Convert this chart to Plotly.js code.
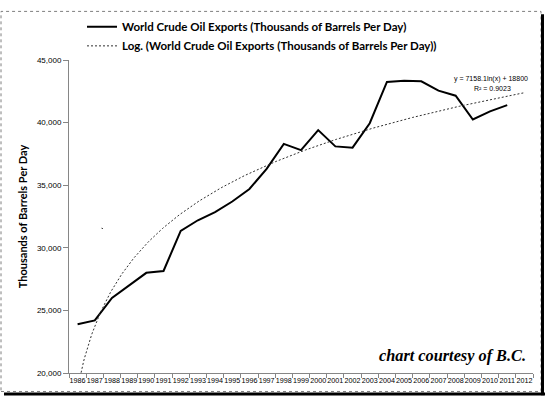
<!DOCTYPE html>
<html>
<head>
<meta charset="utf-8">
<script src="https://cdn.plot.ly/plotly-3.0.1.min.js"></script>
<style>
html,body{margin:0;padding:0;background:#fff;}
#chart{width:545px;height:396px;}
</style>
</head>
<body>
<div id="chart"></div>
<script>
// ---- data ----
const categories = ["1986","1987","1988","1989","1990","1991","1992","1993","1994","1995","1996","1997","1998","1999","2000","2001","2002","2003","2004","2005","2006","2007","2008","2009","2010","2011","2012"];
const dataYears = [1986,1987,1988,1989,1990,1991,1992,1993,1994,1995,1996,1997,1998,1999,2000,2001,2002,2003,2004,2005,2006,2007,2008,2009,2010,2011];
const exportsKbd = [23900,24200,26000,27000,28000,28150,31350,32200,32850,33700,34700,36300,38300,37800,39400,38100,38000,39950,43250,43350,43300,42550,42150,40250,40900,41400];
const seriesName = "World Crude Oil Exports (Thousands of Barrels Per Day)";
const trendName = "Log. (World Crude Oil Exports (Thousands of Barrels Per Day))";
const equationText = "y = 7158.1ln(x) + 18800";
const r2Text = "R² = 0.9023";
const yTitle = "Thousands of Barrels Per Day";
const creditText = "chart courtesy of B.C.";

// ---- logarithmic trendline (least squares fit, as Excel does: x = 1..n) ----
const n = exportsKbd.length;
let sx=0, sy=0, sxx=0, sxy=0;
for (let i=0;i<n;i++){ const lx=Math.log(i+1); sx+=lx; sy+=exportsKbd[i]; sxx+=lx*lx; sxy+=lx*exportsKbd[i]; }
const slope = (n*sxy - sx*sy)/(n*sxx - sx*sx);
const intercept = (sy - slope*sx)/n;
const trendX = [], trendY = [];
for (let t=1; t<=n+1.0001; t+=0.05){ trendX.push(dataYears[0]-1+t); trendY.push(slope*Math.log(t)+intercept); }

const W=545, H=396, mL=69, mR=12, mT=51, mB=23;
const pw=W-mL-mR, ph=H-mT-mB;
const px = x => (x-mL)/pw;          // pixel -> paper x
const py = y => 1-(y-mT)/ph;        // pixel -> paper y

const traces = [
  {x:dataYears, y:exportsKbd, name:seriesName, type:"scatter", mode:"lines",
   line:{color:"#000000", width:2}},
  {x:trendX, y:trendY, name:trendName, type:"scatter", mode:"lines",
   line:{color:"#303030", width:1, dash:"2px,2px"}}
];

const layout = {
  width:W, height:H,
  margin:{l:mL, r:mR, t:mT, b:mB, pad:0},
  paper_bgcolor:"#ffffff", plot_bgcolor:"#ffffff",
  showlegend:true,
  legend:{x:px(82), y:py(2), xanchor:"left", yanchor:"top", bgcolor:"rgba(0,0,0,0)",
          font:{family:"Lato, 'Liberation Sans', sans-serif", size:11.5, weight:"bold", color:"#000"},
          tracegroupgap:0},
  xaxis:{type:"linear", range:[dataYears[0]-0.5, 2012.5],
         tickmode:"array", tickvals:categories.map(Number), ticktext:categories, tickangle:0,
         ticks:"", showgrid:false, zeroline:false,
         showline:true, linecolor:"#868686", linewidth:1,
         tickfont:{family:"'Liberation Sans', Arial, sans-serif", size:7.2, color:"#000"},
         minor:{tick0:1985.5, dtick:1, ticks:"outside", ticklen:4, tickcolor:"#868686", showgrid:false},
         fixedrange:true},
  yaxis:{range:[20000,45000], dtick:5000, tickformat:",", ticks:"outside", ticklen:5,
         tickcolor:"#868686", showline:true, linecolor:"#868686", linewidth:1,
         showgrid:false, zeroline:false,
         tickfont:{family:"'Liberation Sans', Arial, sans-serif", size:8, color:"#000"},
         title:{text:yTitle, standoff:7, font:{family:"Lato, 'Liberation Sans', sans-serif", size:11, weight:"bold", color:"#000"}},
         fixedrange:true},
  annotations:[
    {xref:"paper", yref:"paper", x:px(491), y:py(70.5), text:equationText, showarrow:false,
     font:{family:"'Liberation Sans', Arial, sans-serif", size:7, color:"#000"}, xanchor:"center", yanchor:"middle"},
    {xref:"paper", yref:"paper", x:px(492), y:py(80), text:r2Text, showarrow:false,
     font:{family:"'Liberation Sans', Arial, sans-serif", size:7, color:"#000"}, xanchor:"center", yanchor:"middle"},
    {xref:"paper", yref:"paper", x:px(528), y:py(355), text:"<b><i>"+creditText+"</i></b>", showarrow:false,
     font:{family:"'Liberation Serif', 'Times New Roman', serif", size:16.3, color:"#000"}, xanchor:"right", yanchor:"middle"}
  ],
  shapes:[
    {type:"rect", xref:"paper", yref:"paper", x0:px(1), x1:px(541), y0:py(392), y1:py(1),
     line:{color:"#7f7f7f", width:1, dash:"dot"}},
    {type:"line", xref:"paper", yref:"paper", x0:px(542.5), x1:px(542.5), y0:py(4), y1:py(396),
     line:{color:"#000000", width:3}},
    {type:"line", xref:"paper", yref:"paper", x0:px(4), x1:px(545), y0:py(394.5), y1:py(394.5),
     line:{color:"#000000", width:3}},
    {type:"line", xref:"paper", yref:"paper", x0:px(101.5), x1:px(103), y0:py(224), y1:py(224.5),
     line:{color:"#404040", width:1}}
  ]
};

Plotly.newPlot("chart", traces, layout, {staticPlot:true, displayModeBar:false});
</script>
</body>
</html>
